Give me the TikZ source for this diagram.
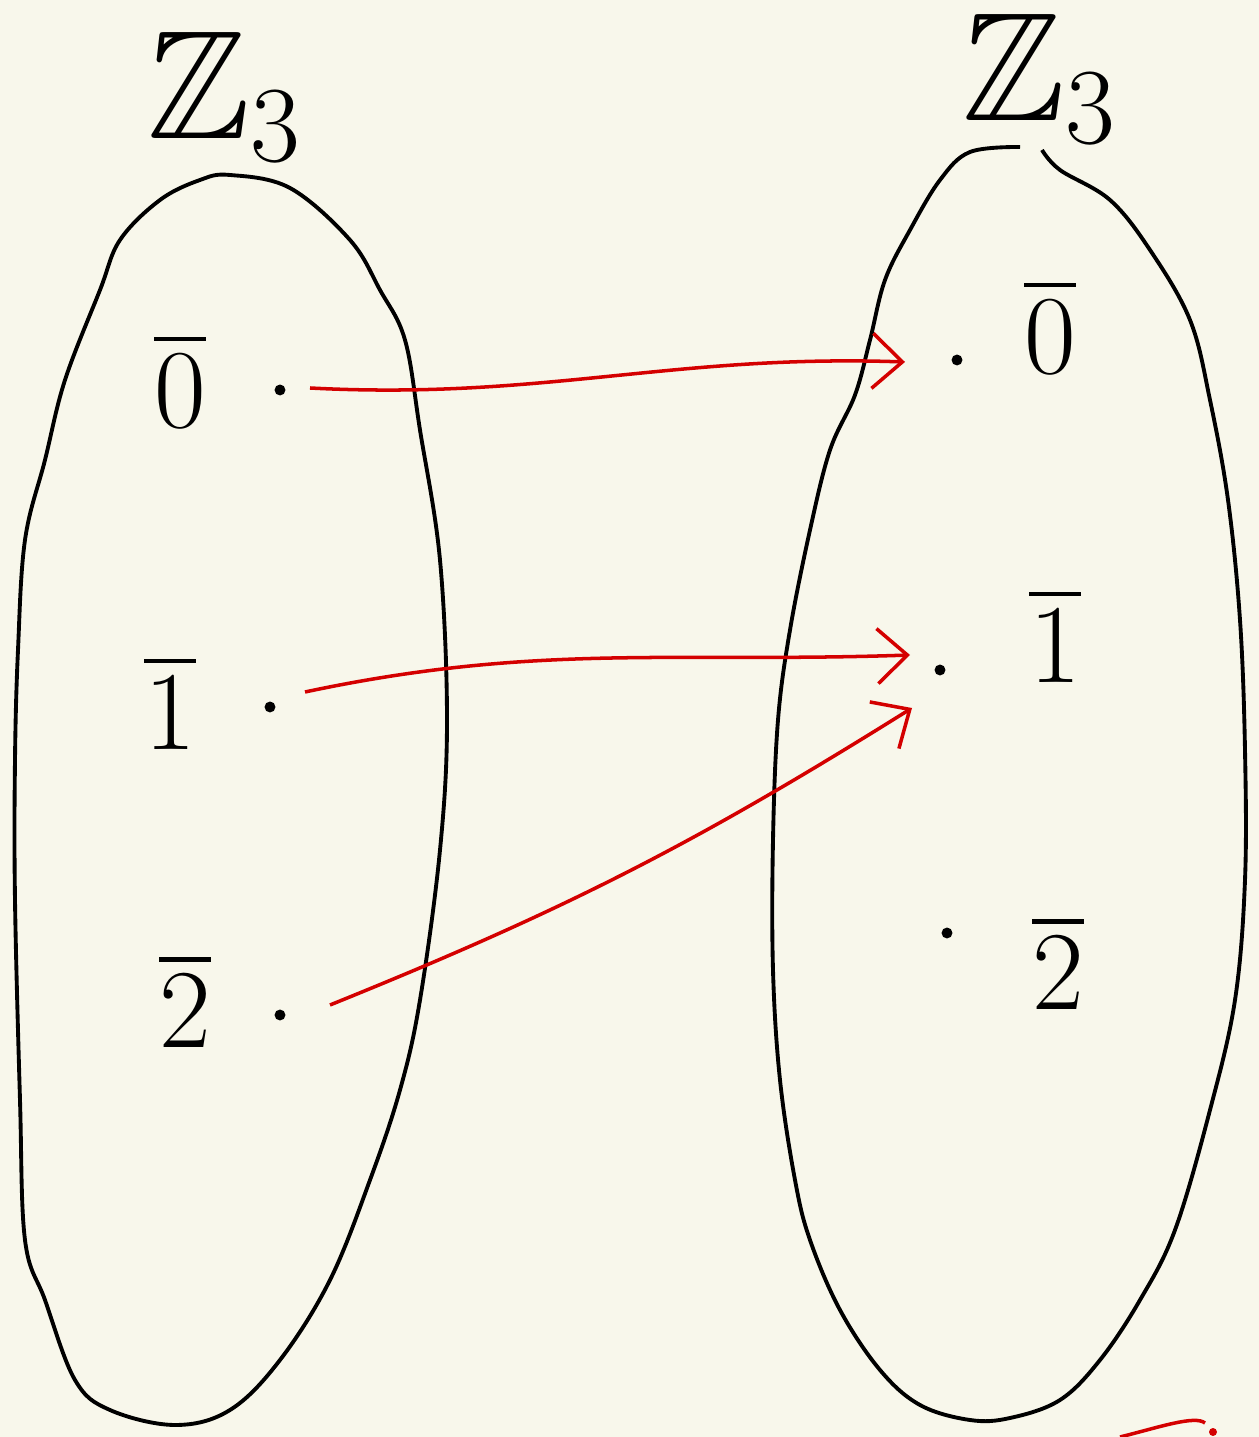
\documentclass[tikz,border=0pt]{standalone}
\usepackage{fix-cm}
\usepackage{amssymb}
\usetikzlibrary{arrows.meta}

\definecolor{paper}{HTML}{F8F7EB}
\definecolor{penred}{HTML}{D40000}

\begin{document}
\begin{tikzpicture}[>={Straight Barb[length=3mm,width=5.5mm]},
  blob/.style={line width=1.1pt, line join=round},
  elem/.style={font=\fontsize{32}{38}\selectfont, inner sep=0pt},
  setname/.style={font=\fontsize{44}{50}\selectfont, inner sep=0pt},
  pt/.style={circle, fill, inner sep=1.1pt},
  map/.style={->, penred, line width=1pt}]
  \fill[paper] (0,0) rectangle (12.59,14.37);
  \useasboundingbox (0,0) rectangle (12.59,14.37);

  % domain
  \draw[blob] plot[smooth cycle, tension=0.6] coordinates {
    (2.30,12.62) (2.90,12.49) (3.50,11.97) (3.80,11.47) (4.05,10.97)
    (4.20,10.07) (4.40,8.77) (4.47,7.17) (4.40,5.87) (4.20,4.37)
    (4.00,3.47) (3.70,2.57) (3.30,1.57) (2.80,0.77) (2.30,0.27)
    (1.75,0.12) (1.10,0.27) (0.75,0.57) (0.45,1.37) (0.25,1.97)
    (0.20,3.37) (0.15,5.37) (0.15,6.77) (0.18,7.87) (0.25,8.97)
    (0.45,9.77) (0.65,10.57) (1.00,11.47) (1.20,11.97) (1.60,12.37)
    (2.00,12.57)};

  % codomain
  \draw[blob] plot[smooth, tension=0.6] coordinates {
    (10.20,12.90) (9.70,12.85) (9.40,12.57) (9.10,12.07) (8.85,11.57)
    (8.70,10.97) (8.55,10.42) (8.30,9.87) (8.10,9.07) (7.90,8.07)
    (7.78,7.17) (7.73,5.97) (7.73,4.67) (7.80,3.57) (7.95,2.57)
    (8.10,1.97) (8.40,1.27) (8.80,0.67) (9.20,0.32) (9.70,0.17)
    (10.10,0.19) (10.60,0.37) (11.00,0.77) (11.40,1.37) (11.75,2.07)
    (12.10,3.27) (12.35,4.37) (12.45,5.57) (12.45,6.87) (12.40,8.17)
    (12.28,9.37) (12.10,10.37) (11.90,11.17) (11.50,11.87) (11.10,12.37)
    (10.60,12.67) (10.42,12.87)};

  \node[setname] (Zl) at (2.25,13.40) {$\mathbb{Z}_3$};
  \node[setname] (Zr) at (10.40,13.58) {$\mathbb{Z}_3$};

  \node[elem] (lz) at (1.80,10.57) {$\overline{0}$};
  \node[elem] (lo) at (1.70,7.35) {$\overline{1}$};
  \node[elem] (lt) at (1.85,4.37) {$\overline{2}$};
  \node[elem] (rz) at (10.50,11.11) {$\overline{0}$};
  \node[elem] (ro) at (10.55,8.02) {$\overline{1}$};
  \node[elem] (rt) at (10.58,4.75) {$\overline{2}$};

  \node[pt] (la) at (2.80,10.47) {};
  \node[pt] (lb) at (2.70,7.30) {};
  \node[pt] (lc) at (2.80,4.22) {};
  \node[pt] (ra) at (9.57,10.77) {};
  \node[pt] (rb) at (9.40,7.67) {};
  \node[pt] (rc) at (9.47,5.04) {};

  \draw[map] ([shift={(0.30,0.02)}]la.center) to[out=-3, in=178] ([shift={(-0.52,-0.02)}]ra.center);
  \draw[map] ([shift={(0.35,0.15)}]lb.center) to[out=12, in=182] ([shift={(-0.30,0.15)}]rb.center);
  \draw[map] ([shift={(0.50,0.10)}]lc.center) to[out=22, in=212] ([shift={(-0.28,-0.38)}]rb.center);

  % stray stroke at the bottom edge
  \draw[penred, line width=1pt] (11.20,0) .. controls (11.60,0.10) and (11.95,0.22) .. (12.05,0.14);
  \fill[penred] (12.13,0.05) circle (0.04);
\end{tikzpicture}
\end{document}
